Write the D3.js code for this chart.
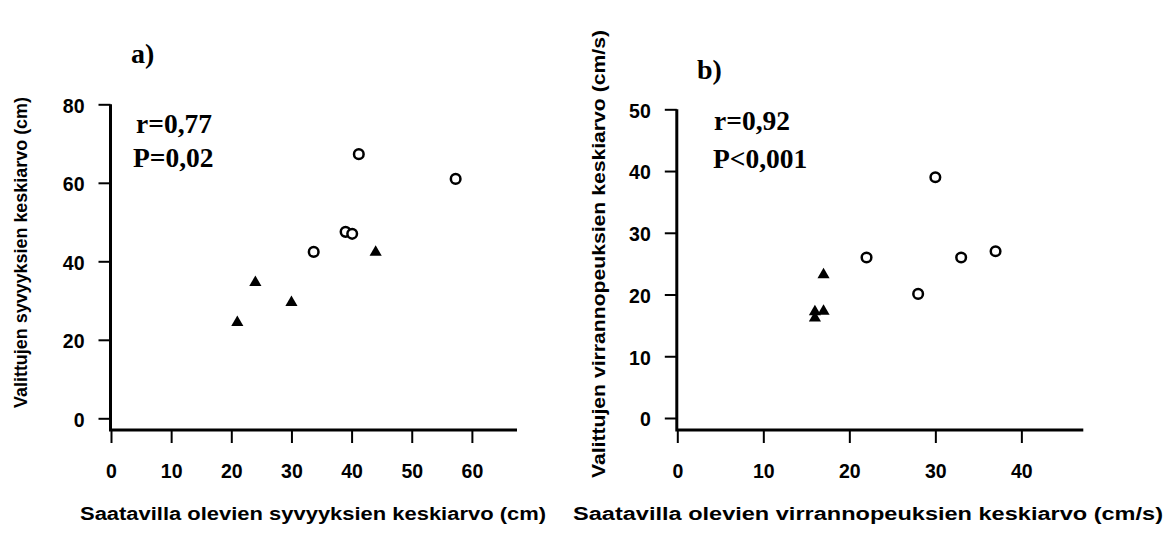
<!DOCTYPE html>
<html><head><meta charset="utf-8">
<script src="https://cdn.jsdelivr.net/npm/d3@7"></script>
<style>
html,body{margin:0;padding:0;background:#fff;}
svg{display:block;}
</style></head>
<body>
<svg id="chart" width="1169" height="536"></svg>
<script>
// ---- data (panel a: depth, panel b: current velocity) ----
const aCircleX = [41.2, 57.3, 39.0, 40.1, 33.7];
const aCircleY = [67.3, 61.0, 47.5, 47.0, 42.4];
const aTriX = [21.0, 24.0, 30.0, 44.0];
const aTriY = [24.4, 34.6, 29.5, 42.3];
const bCircleX = [30.0, 22.0, 33.0, 37.0, 28.0];
const bCircleY = [39.0, 26.0, 26.0, 27.0, 20.1];
const bTriX = [17.0, 16.0, 17.0, 16.0];
const bTriY = [23.2, 17.2, 17.3, 16.2];
const aXTicks = [0, 10, 20, 30, 40, 50, 60];
const aYTicks = [0, 20, 40, 60, 80];
const bXTicks = [0, 10, 20, 30, 40];
const bYTicks = [0, 10, 20, 30, 40, 50];
const aXTitle = "Saatavilla olevien syvyyksien keskiarvo (cm)";
const aYTitle = "Valittujen syvyyksien keskiarvo (cm)";
const bXTitle = "Saatavilla olevien virrannopeuksien keskiarvo (cm/s)";
const bYTitle = "Valittujen virrannopeuksien keskiarvo (cm/s)";
const aStats = ["r=0,77", "P=0,02"];
const bStats = ["r=0,92", "P<0,001"];

const svg = d3.select("#chart");
const sans = "'Liberation Sans', Arial, sans-serif";
const serif = "'Liberation Serif', 'Times New Roman', serif";

function panel(cfg) {
  const x = d3.scaleLinear().domain(cfg.xDomain).range(cfg.xRange);
  const y = d3.scaleLinear().domain(cfg.yDomain).range(cfg.yRange);
  const g = svg.append("g");
  const axisY = cfg.axisY;
  const axisX = x(0) - 0.5;

  const gx = g.append("g").attr("transform", `translate(0,${axisY})`)
    .call(d3.axisBottom(x).tickValues(cfg.xTicks).tickSize(13).tickPadding(21).tickFormat(d3.format("d")));
  gx.select(".domain").remove();
  gx.selectAll(".tick line").attr("stroke", "#000").attr("stroke-width", 2);
  gx.selectAll(".tick text").attr("dy", "0.71em")
    .style("font", `bold 19.5px ${sans}`).style("fill", "#000");

  const gy = g.append("g").attr("transform", `translate(${axisX},0)`)
    .call(d3.axisLeft(y).tickValues(cfg.yTicks).tickSize(12).tickPadding(14).tickFormat(d3.format("d")));
  gy.select(".domain").remove();
  gy.selectAll(".tick line").attr("stroke", "#000").attr("stroke-width", 2);
  gy.selectAll(".tick text").attr("dy", "0.4em")
    .style("font", `bold 19.5px ${sans}`).style("fill", "#000");

  g.append("path")
    .attr("d", `M${axisX},${y(cfg.yDomain[1])}V${axisY}H${x(cfg.xDomain[1])}`)
    .attr("fill", "none").attr("stroke", "#000").attr("stroke-width", 3);

  g.selectAll("circle.pt").data(d3.range(cfg.cx.length)).join("circle")
    .attr("class", "pt")
    .attr("cx", i => x(cfg.cx[i])).attr("cy", i => y(cfg.cy[i]))
    .attr("r", 4.8).attr("fill", "#fff").attr("stroke", "#000").attr("stroke-width", 2.5);

  const tri = d3.symbol().type(d3.symbolTriangle).size(64);
  g.selectAll("path.tri").data(d3.range(cfg.tx.length)).join("path")
    .attr("class", "tri")
    .attr("d", tri)
    .attr("transform", i => `translate(${x(cfg.tx[i])},${y(cfg.ty[i])})`)
    .attr("fill", "#000");

  g.append("text").attr("x", cfg.labelPos[0]).attr("y", cfg.labelPos[1])
    .style("font", `bold 28px ${serif}`)
    .text(cfg.label);

  cfg.stats.forEach((s, i) => {
    g.append("text").attr("x", cfg.statsPos[i][0]).attr("y", cfg.statsPos[i][1])
      .style("font", `bold 27.5px ${serif}`)
      .text(s);
  });

  g.append("text").attr("x", cfg.xTitlePos[0]).attr("y", cfg.xTitlePos[1])
    .attr("text-anchor", "middle")
    .style("font", `bold 18px ${sans}`)
    .attr("textLength", cfg.xTitleLen).attr("lengthAdjust", "spacingAndGlyphs")
    .text(cfg.xTitle);

  g.append("text")
    .attr("transform", `translate(${cfg.yTitlePos[0]},${cfg.yTitlePos[1]}) rotate(-90)`)
    .attr("text-anchor", "middle")
    .style("font", `bold 18px ${sans}`)
    .attr("textLength", cfg.yTitleLen).attr("lengthAdjust", "spacingAndGlyphs")
    .text(cfg.yTitle);
}

panel({
  xDomain: [0, 67.5], xRange: [111, 517],
  yDomain: [0, 80], yRange: [418.3, 104.3],
  axisY: 430,
  xTicks: aXTicks, yTicks: aYTicks,
  cx: aCircleX, cy: aCircleY, tx: aTriX, ty: aTriY,
  label: "a)", labelPos: [131, 63],
  stats: aStats, statsPos: [[136, 133], [133, 167]],
  xTitle: aXTitle, xTitlePos: [313, 520], xTitleLen: 466,
  yTitle: aYTitle, yTitlePos: [27, 252.5], yTitleLen: 311
});

panel({
  xDomain: [0, 47.2], xRange: [677.3, 1083.3],
  yDomain: [0, 50], yRange: [418, 109.3],
  axisY: 430,
  xTicks: bXTicks, yTicks: bYTicks,
  cx: bCircleX, cy: bCircleY, tx: bTriX, ty: bTriY,
  label: "b)", labelPos: [697, 79],
  stats: bStats, statsPos: [[714, 130], [713, 168]],
  xTitle: bXTitle, xTitlePos: [868, 520], xTitleLen: 590,
  yTitle: bYTitle, yTitlePos: [605, 254], yTitleLen: 448
});
</script>
</body></html>
